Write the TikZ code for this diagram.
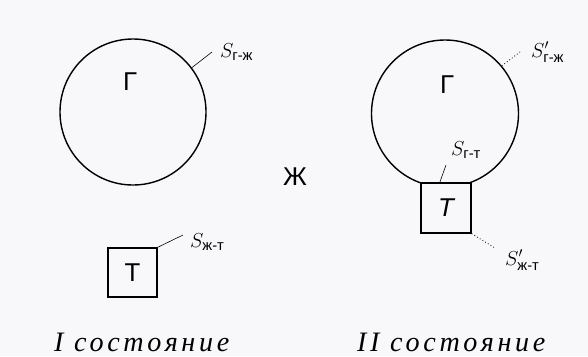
\documentclass[tikz,border=0pt]{standalone}
\usepackage{amsmath}
\usepackage{fontspec}
\setmainfont{Liberation Sans}
\newfontfamily\capfont[LetterSpace=13]{Liberation Serif}
\usetikzlibrary{calc}
\definecolor{paper}{RGB}{248,248,250}
\begin{document}
\begin{tikzpicture}[x=0.03cm, y=-0.03cm,
  phase/.style={draw, line width=1.2pt, inner sep=0pt},
  leader/.style={line width=0.5pt},
  dotleader/.style={line width=0.7pt, dotted},
  big/.style={font=\fontsize{22}{24}\selectfont},
  slabel/.style={anchor=west, inner sep=0pt, font=\fontsize{18}{20}\selectfont}]
\fill[paper] (0,0) rectangle (588,356);
\useasboundingbox (0,0) rectangle (588,356);
% I state
\node[phase, circle, minimum size=4.38cm] (gasI) at (133,112) {};
\node[big] (gI) at (130,82) {Г};
\node[phase, minimum size=1.47cm, big] (solidI) at (132.5,272.5) {Т};
\coordinate (tipA) at (212,52);
\coordinate (tipB) at (183,235);
\draw[leader] (gasI.37) -- (tipA);
\draw[leader] (solidI.north east) -- (tipB);
\node[slabel] (sgzI) at (220,52) {$S_{\text{г-ж}}$};
\node[slabel] (sztI) at (190,242) {$S_{\text{ж-т}}$};
\node[big] (liq) at (295,177) {Ж};
% II state
\node[phase, circle, minimum size=4.41cm] (gasII) at (445,113.5) {};
\node[big] (gII) at (447,85) {Г};
\node[phase, fill=paper, minimum size=1.5cm, big] (solidII) at (446,208) {\itshape Т};
\coordinate (tipC) at (520,52);
\coordinate (tipD) at (446,165);
\coordinate (tipE) at (495,248);
\draw[dotleader] (gasII.40) -- (tipC);
\draw[leader] ($(solidII.north west)!0.38!(solidII.north east)$) -- (tipD);
\draw[dotleader] (solidII.south east) -- (tipE);
\node[slabel] (sgzII) at (531,52) {$S'_{\text{г-ж}}$};
\node[slabel] (sgtII) at (451,150) {$S_{\text{г-т}}$};
\node[slabel] (sztII) at (505,260) {$S'_{\text{ж-т}}$};
% captions
\node[anchor=west, font=\fontsize{24}{26}\capfont\itshape] (capI) at (50,342) {I состояние};
\node[anchor=west, font=\fontsize{24}{26}\capfont\itshape] (capII) at (353,342) {II состояние};
\end{tikzpicture}
\end{document}
